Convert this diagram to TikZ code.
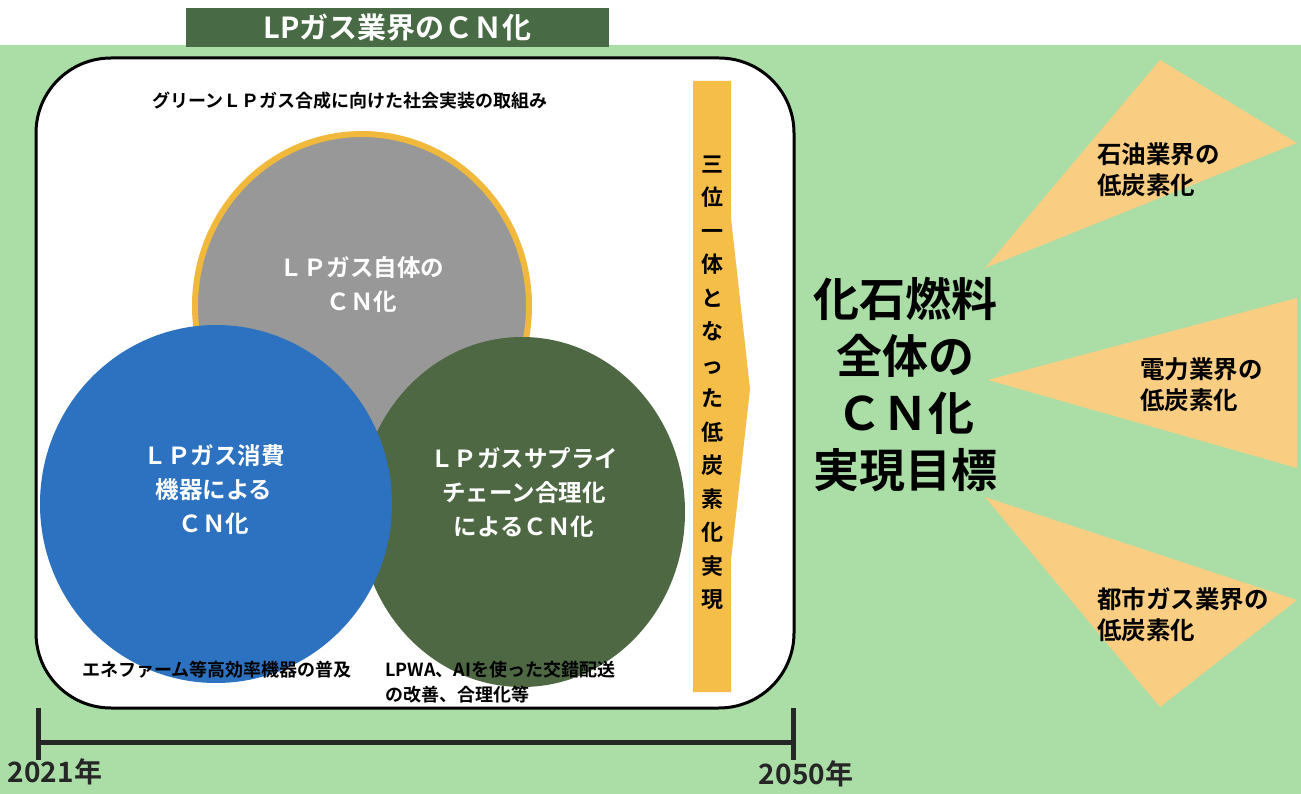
\documentclass[tikz,border=0pt]{standalone}
\usepackage{fontspec}
\setmainfont{Noto Sans CJK JP}[BoldFont={Noto Sans CJK JP Bold}]
\usepackage{tikz}
\usetikzlibrary{shapes.geometric}

\definecolor{bggreen}{RGB}{170,222,166}
\definecolor{titlegreen}{RGB}{72,106,68}
\definecolor{gasgray}{RGB}{152,152,152}
\definecolor{gasgold}{RGB}{240,185,60}
\definecolor{gasblue}{RGB}{44,114,192}
\definecolor{gasgreen}{RGB}{78,104,68}
\definecolor{baryellow}{RGB}{245,190,72}
\definecolor{fanorange}{RGB}{249,206,130}

\begin{document}
\begin{tikzpicture}[x=1pt, y=-1pt]
    \tikzstyle{venn} = [ellipse, inner sep=0pt]
    \tikzstyle{venntext} = [text=white, align=center, font=\bfseries\fontsize{23.5}{34}\selectfont]
    \tikzstyle{note} = [font=\bfseries\fontsize{18}{25}\selectfont, inner sep=0pt]
    \tikzstyle{fantext} = [anchor=west, align=left, inner sep=0pt, font=\bfseries\fontsize{24.5}{31}\selectfont]
    \tikzstyle{fan} = [fill=fanorange]
    \tikzstyle{year} = [font=\bfseries\fontsize{28}{28}\selectfont, text=black!85]
    \useasboundingbox (0,0) rectangle (1301,794);
    \fill[bggreen] (0,45) rectangle (1301,794);
    \node[fill=titlegreen, text=white, minimum width=423pt, minimum height=39pt, inner sep=0pt,
        font=\bfseries\fontsize{29}{29}\selectfont] (title) at (397.5,27.5) {LPガス業界のＣＮ化};
    \node[draw, line width=3pt, fill=white, rounded corners=75pt, inner sep=0pt,
        minimum width=758pt, minimum height=650pt] (frame) at (415,383) {};
    \node[note] (n1) at (350,101) {グリーンＬＰガス合成に向けた社会実装の取組み};
    \node[venn, fill=gasgray, draw=gasgold, line width=6pt, minimum width=334pt, minimum height=344pt] (c1) at (362,306) {};
    \node[venn, fill=gasgreen, minimum width=326pt, minimum height=350pt] (c3) at (522,512) {};
    \node[venn, fill=gasblue, minimum width=352pt, minimum height=358pt] (c2) at (216,504) {};
    \node[venntext] (l1) at (362,285) {ＬＰガス自体の\\ＣＮ化};
    \node[venntext] (l2) at (214,490) {ＬＰガス消費\\機器による\\ＣＮ化};
    \node[venntext] (l3) at (524,493) {ＬＰガスサプライ\\チェーン合理化\\によるＣＮ化};
    \node[note] (n2) at (217,670) {エネファーム等高効率機器の普及};
    \node[note, anchor=west, align=left] (n3) at (385,682) {LPWA、AIを使った交錯配送\\の改善、合理化等};
    \fill[baryellow] (693,81) -- (731,81) -- (731,218) -- (750,389) -- (731,560) -- (731,692) -- (693,692) -- cycle;
    \node[align=center, inner sep=0pt, font=\bfseries\fontsize{22}{33.5}\selectfont] (bar) at (712,383)
        {三\\位\\一\\体\\と\\な\\っ\\た\\低\\炭\\素\\化\\実\\現};
    \node[align=center, font=\bfseries\fontsize{46}{57}\selectfont] (goal) at (905,385)
        {化石燃料\\全体の\\ＣＮ化\\実現目標};
    \fill[fan] (985,268) -- (1160,60) -- (1297,143) -- cycle;
    \fill[fan] (988,380) -- (1297,298) -- (1297,468) -- cycle;
    \fill[fan] (985,497) -- (1297,600) -- (1160,707) -- cycle;
    \node[fantext] (f1) at (1097,170) {石油業界の\\低炭素化};
    \node[fantext] (f2) at (1140,385) {電力業界の\\低炭素化};
    \node[fantext] (f3) at (1097,615) {都市ガス業界の\\低炭素化};
    \coordinate (y2021) at (38,742);
    \coordinate (y2050) at (793,742);
    \draw[line width=5pt, black!85] (y2021) -- (y2050);
    \foreach \p in {y2021, y2050}
        \draw[line width=5pt, black!85] (\p) ++(0,-34) -- ++(0,52);
    \node[year] (t1) at (55,772) {2021年};
    \node[year] (t2) at (806,774) {2050年};
\end{tikzpicture}
\end{document}
